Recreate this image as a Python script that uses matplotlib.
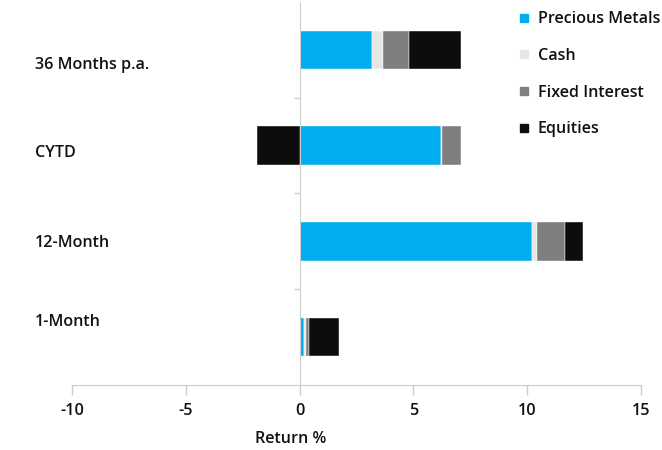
import matplotlib.pyplot as plt
from matplotlib.lines import Line2D

plt.rcParams['font.family'] = ['Open Sans', 'DejaVu Sans']
plt.rcParams['font.weight'] = 'semibold'
plt.rcParams['axes.labelweight'] = 'semibold'

# categories top to bottom
categories = ['36 Months p.a.', 'CYTD', '12-Month', '1-Month']
series_names = ['Precious Metals', 'Cash', 'Fixed Interest', 'Equities']
precious_metals = [3.2, 6.23, 10.22, 0.18]
cash = [0.47, 0.02, 0.22, 0.12]
fixed_interest = [1.13, 0.85, 1.22, 0.12]
equities = [2.28, -1.88, 0.81, 1.29]
colors = ['#00AEEF', '#E6E6E6', '#7F7F7F', '#0D0D0D']
xticks = [-10, -5, 0, 5, 10, 15]

# label nudges (data units) to mimic the original label placement
label_offsets = [-0.16, -0.08, -0.02, 0.16]

FS = 11.6

fig = plt.figure(figsize=(6.62, 4.5), dpi=100)
ax = fig.add_axes([72 / 662, 1 - 385 / 450, 569 / 662, 383 / 450])

ypos = list(range(len(categories)))[::-1]
pos_cum = [0.0] * len(categories)
neg_cum = [0.0] * len(categories)
for name, vals, col in zip(series_names,
                           [precious_metals, cash, fixed_interest, equities],
                           colors):
    lefts = []
    for i, v in enumerate(vals):
        if v >= 0:
            lefts.append(pos_cum[i])
            pos_cum[i] += v
        else:
            lefts.append(neg_cum[i])
            neg_cum[i] += v
    ax.barh(ypos, vals, left=lefts, height=0.4, color=col,
            edgecolor='white', linewidth=0.3, label=name)

ax.set_xlim(-10, 15)
ax.set_ylim(-0.5, len(categories) - 0.5)
ax.set_xticks(xticks)
ax.set_xticklabels([str(t) for t in xticks], fontsize=FS, color='#111111')
ax.tick_params(axis='x', length=7, color='#CCCCCC', width=1, pad=6)

# category dividers as y ticks on the zero line
ax.set_yticks([i + 0.5 for i in range(len(categories) - 1)])
ax.set_yticklabels([])
ax.tick_params(axis='y', length=4, color='#CCCCCC', width=1)

for s in ['top', 'right']:
    ax.spines[s].set_visible(False)
ax.spines['left'].set_position(('data', 0))
ax.spines['left'].set_color('#CCCCCC')
ax.spines['bottom'].set_color('#CCCCCC')

for y, lab, off in zip(ypos, categories, label_offsets):
    ax.text(-0.065, y + off, lab, transform=ax.get_yaxis_transform(),
            ha='left', va='center', fontsize=FS, color='#111111')

ax.set_xlabel('Return %', fontsize=FS, color='#111111')
ax.xaxis.set_label_coords(0.385, -0.12)

handles = [Line2D([], [], marker='s', linestyle='', markersize=5.5,
                  color=c) for c in colors]
fig.legend(handles, series_names, loc='upper left',
           bbox_to_anchor=(513 / 662, 1 - 5 / 450), frameon=False,
           fontsize=FS, handlelength=0.6, handletextpad=0.55,
           labelspacing=1.28, borderaxespad=0, labelcolor='#111111')

fig.savefig('out.png', dpi=100)
